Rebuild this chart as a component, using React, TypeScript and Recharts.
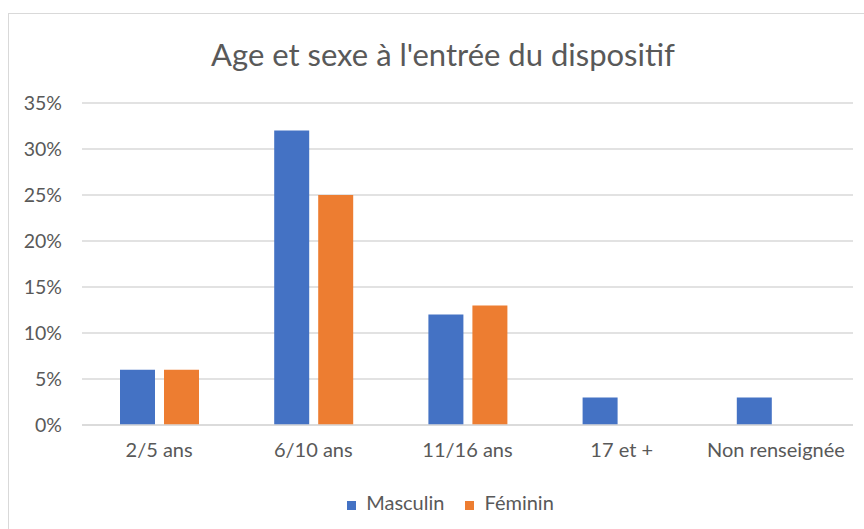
import { BarChart, Bar, XAxis, YAxis, CartesianGrid, Legend } from 'recharts'

const categories = ['2/5 ans', '6/10 ans', '11/16 ans', '17 et +', 'Non renseignée']
const masculin = [6, 32, 12, 3, 3]
const feminin = [6, 25, 13, 0, 0]
const yTicks = [0, 5, 10, 15, 20, 25, 30, 35]
const seriesOrder = ['Masculin', 'Féminin']

const data = categories.map((name, i) => ({
  name,
  Masculin: masculin[i],
  Féminin: feminin[i],
}))

const textColor = '#595959'
const gridColor = '#d9d9d9'
const font = "Lato, 'Open Sans', sans-serif"

export default function App() {
  return (
    <div
      style={{
        position: 'fixed',
        left: 8,
        top: 13,
        width: 856,
        height: 516,
        borderLeft: `1px solid ${gridColor}`,
        borderTop: `1px solid ${gridColor}`,
        background: '#fff',
        fontFamily: font,
      }}
    >
      <div
        style={{
          position: 'absolute',
          left: 0,
          width: 868,
          top: 21,
          textAlign: 'center',
          fontSize: 31,
          color: textColor,
          whiteSpace: 'nowrap',
        }}
      >
        Age et sexe à l'entrée du dispositif
      </div>
      <BarChart
        width={855}
        height={515}
        data={data}
        margin={{ top: 89, right: 11, left: 0, bottom: 74 }}
        barSize={35}
        barGap={9}
      >
        <CartesianGrid vertical={false} stroke={gridColor} strokeWidth={1.3} />
        <XAxis
          dataKey="name"
          height={30}
          axisLine={{ stroke: gridColor, strokeWidth: 1.3 }}
          tickLine={false}
          tickSize={0}
          tickMargin={18}
          tick={{ fill: textColor, fontSize: 20 }}
          interval={0}
        />
        <YAxis
          width={73}
          domain={[0, 35]}
          ticks={yTicks}
          tickFormatter={(v) => `${v}%`}
          axisLine={false}
          tickLine={false}
          tickSize={0}
          tickMargin={20}
          tick={{ fill: textColor, fontSize: 19.5 }}
        />
        <Legend
          verticalAlign="middle"
          align="center"
          iconType="square"
          iconSize={9}
          itemSorter={(item: any) => seriesOrder.indexOf(item.value)}
          wrapperStyle={{ top: 476, left: 14, width: 876 }}
          formatter={(value) => (
            <span style={{ color: textColor, fontSize: 20, marginLeft: 6, marginRight: 11 }}>{value}</span>
          )}
        />
        <Bar dataKey="Masculin" fill="#4472c4" isAnimationActive={false} />
        <Bar dataKey="Féminin" fill="#ed7d31" isAnimationActive={false} />
      </BarChart>
    </div>
  )
}
